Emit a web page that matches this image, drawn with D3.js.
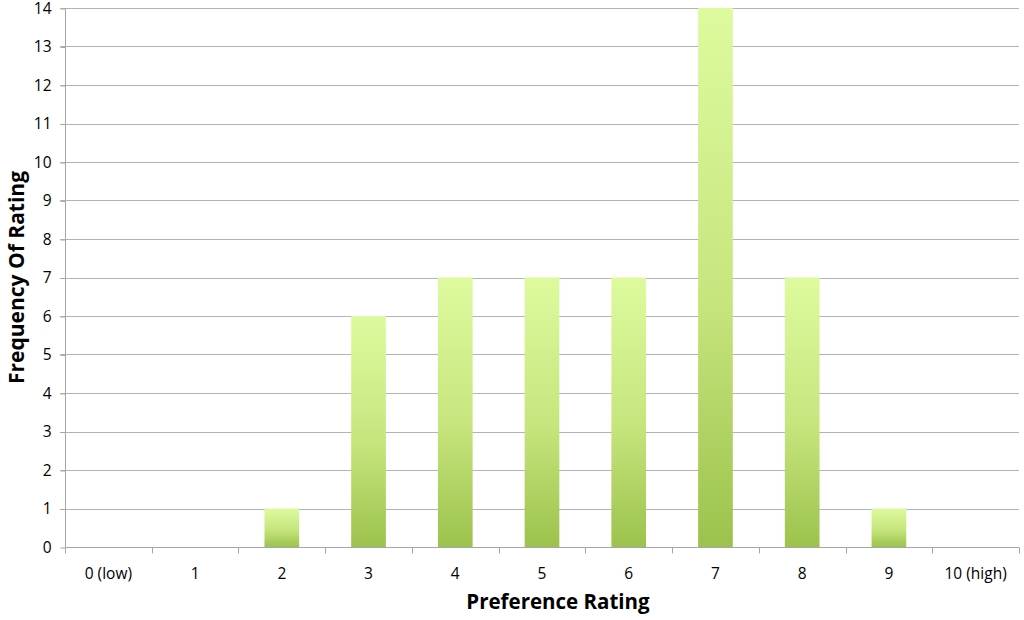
<!DOCTYPE html>
<html><head><meta charset="utf-8">
<script src="https://cdn.jsdelivr.net/npm/d3@7/dist/d3.min.js"></script>
<style>body{margin:0;background:#fff}svg{display:block}</style>
</head><body>
<svg id="c" width="1024" height="620"></svg>
<script>
const categories = ["0 (low)","1","2","3","4","5","6","7","8","9","10 (high)"];
const frequencies = [0,0,1,6,7,7,7,14,7,1,0];
const yTicks = [0,1,2,3,4,5,6,7,8,9,10,11,12,13,14];
const xTitle = "Preference Rating";
const yTitle = "Frequency Of Rating";

const svg = d3.select("#c");
const m = {l:65, r:1019, t:8, b:547};
const font = "'Open Sans', 'Liberation Sans', sans-serif";

const x = d3.scaleBand().domain(categories).range([m.l, m.r]).paddingInner(0.6).paddingOuter(0.3);
const y = d3.scaleLinear().domain([0,14]).range([m.b, m.t]);

const grad = svg.append("defs").append("linearGradient").attr("id","g").attr("x1",0).attr("y1",0).attr("x2",0).attr("y2",1);
grad.append("stop").attr("offset","0%").attr("stop-color","#ddfb9e");
grad.append("stop").attr("offset","55%").attr("stop-color","#c6e57d");
grad.append("stop").attr("offset","100%").attr("stop-color","#9cc24c");

// gridlines
svg.append("g").selectAll("line").data(yTicks.filter(d=>d>0)).join("line")
  .attr("x1", m.l-5).attr("x2", m.r).attr("y1", d=>Math.round(y(d))+0.5).attr("y2", d=>Math.round(y(d))+0.5)
  .attr("stroke","#b3b3b3").attr("stroke-width",1);

// bars
const barData = categories.map((c,i)=>({c, v:frequencies[i]})).filter(d=>d.v>0);
svg.append("g").selectAll("rect").data(barData).join("rect")
  .attr("x", d=>x(d.c)).attr("width", x.bandwidth())
  .attr("y", d=>y(d.v)).attr("height", d=>y(0)-y(d.v))
  .attr("fill","url(#g)");

// y axis
const ya = d3.axisLeft(y).tickValues(yTicks).tickSize(5).tickPadding(9).tickFormat(d3.format("d"));
const yg = svg.append("g").attr("transform",`translate(${m.l+0.5},0.5)`).call(ya);
yg.select(".domain").attr("stroke","#a6a6a6").attr("d",`M0,${m.t}V${m.b}`);
yg.selectAll(".tick line").attr("stroke","#a6a6a6");
yg.selectAll("text").attr("font-family",font).attr("font-size",15.5).attr("fill","#000");

// x axis
const xg = svg.append("g").attr("transform",`translate(0,${m.b+0.5})`);
xg.append("line").attr("x1",m.l).attr("x2",m.r).attr("stroke","#a6a6a6");
xg.selectAll("line.t").data(d3.range(0, categories.length+1)).join("line").attr("class","t")
  .attr("x1", i=>Math.round(m.l + i*(m.r-m.l)/categories.length)+0.5)
  .attr("x2", i=>Math.round(m.l + i*(m.r-m.l)/categories.length)+0.5)
  .attr("y1",0).attr("y2",6).attr("stroke","#a6a6a6");
xg.selectAll("text").data(categories).join("text")
  .attr("x", d=>x(d)+x.bandwidth()/2).attr("y", 31)
  .attr("text-anchor","middle").attr("font-family",font).attr("font-size",15.5).attr("fill","#000")
  .text(d=>d);

svg.append("text").attr("x",(m.l+m.r)/2+16).attr("y",609).attr("text-anchor","middle")
  .attr("font-family",font).attr("font-weight","bold").attr("font-size",20.5).text(xTitle);
svg.append("text").attr("transform",`translate(24,${(m.t+m.b)/2}) rotate(-90)`).attr("text-anchor","middle")
  .attr("font-family",font).attr("font-weight","bold").attr("font-size",21).text(yTitle);
</script>
</body></html>
